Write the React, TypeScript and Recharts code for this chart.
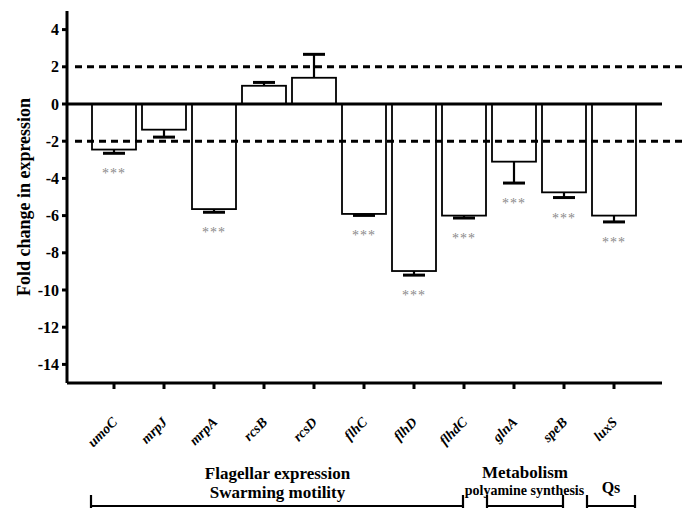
import React from 'react';
import { BarChart, Bar, XAxis, YAxis, ReferenceLine } from 'recharts';

const genes = ['umoC', 'mrpJ', 'mrpA', 'rcsB', 'rcsD', 'flhC', 'flhD', 'flhdC', 'glnA', 'speB', 'luxS'];
const foldChange = [-2.45, -1.38, -5.65, 0.98, 1.41, -5.91, -8.98, -6.0, -3.1, -4.75, -6.0];
const errors = [0.2, 0.4, 0.17, 0.18, 1.26, 0.08, 0.22, 0.13, 1.15, 0.28, 0.34];
const significance = ['***', '', '***', '', '', '***', '***', '***', '***', '***', '***'];
const yTicks = [-14, -12, -10, -8, -6, -4, -2, 0, 2, 4];
const thresholds = [2, -2];

const data = genes.map((g, i) => ({ gene: g, fc: foldChange[i], err: errors[i], sig: significance[i] }));

const SERIF = '"Liberation Serif", "Times New Roman", serif';

const BarWithError = (props: any) => {
  const { x, y, width, height, payload } = props;
  const top = Math.min(y, y + height);
  const h = Math.abs(height);
  const v = payload.fc;
  const ppu = v !== 0 ? h / Math.abs(v) : 0;
  const cx = x + width / 2;
  const neg = v < 0;
  const end = neg ? top + h : top;
  const errEnd = neg ? end + payload.err * ppu : end - payload.err * ppu;
  return (
    <g>
      <rect x={x} y={top} width={width} height={h} fill="#fff" stroke="#000" strokeWidth={1.8} />
      <line x1={cx} y1={end} x2={cx} y2={errEnd} stroke="#000" strokeWidth={2.2} />
      <line x1={cx - 11} y1={errEnd} x2={cx + 11} y2={errEnd} stroke="#000" strokeWidth={3} />
      {payload.sig ? (
        <text x={cx} y={errEnd + 25} textAnchor="middle" fontFamily={SERIF} fontSize={14} letterSpacing={1} fill="#8a8a8a">
          {payload.sig}
        </text>
      ) : null}
    </g>
  );
};

const GeneTick = (props: any) => {
  const { x, y, payload } = props;
  const ex = x + 4;
  const ey = y + 32;
  return (
    <text x={ex} y={ey} transform={`rotate(-45, ${ex}, ${ey})`} textAnchor="end" fontFamily={SERIF}
      fontWeight="bold" fontStyle="italic" fontSize={14} fill="#000">
      {payload.value}
    </text>
  );
};

const DashedExtended = (props: any) => {
  const { x1, y1, y2 } = props;
  return <line x1={x1 + 8} y1={y1} x2={683} y2={y2} stroke="#000" strokeWidth={3} strokeDasharray="7 5" />;
};

export default function App() {
  return (
    <div style={{ position: 'absolute', left: 0, top: 0, width: 683, height: 508, background: '#fff' }}>
      <BarChart width={683} height={508} data={data} margin={{ top: 11, right: 21, bottom: 0, left: 0 }}>
        <XAxis
          dataKey="gene"
          height={125}
          padding={{ left: 22, right: 23 }}
          interval={0}
          tickSize={6}
          tickMargin={2}
          axisLine={{ stroke: '#000', strokeWidth: 3 }}
          tickLine={{ stroke: '#000', strokeWidth: 3 }}
          tick={<GeneTick />}
        />
        <YAxis
          width={67}
          domain={[-15, 5]}
          ticks={yTicks}
          interval={0}
          tickSize={5}
          tickMargin={3}
          axisLine={{ stroke: '#000', strokeWidth: 3 }}
          tickLine={{ stroke: '#000', strokeWidth: 3 }}
          tick={{ fill: '#000', fontFamily: SERIF, fontWeight: 'bold', fontSize: 16 }}
        />
        {thresholds.map((t) => (
          <ReferenceLine key={t} y={t} stroke="#000" strokeWidth={3} strokeDasharray="7 5" shape={<DashedExtended />} />
        ))}
        <Bar dataKey="fc" barSize={44} shape={<BarWithError />} isAnimationActive={false} />
        <ReferenceLine y={0} stroke="#000" strokeWidth={3} />
      </BarChart>
      <svg width={683} height={508} style={{ position: 'absolute', left: 0, top: 0, pointerEvents: 'none' }}>
        <text x={29.5} y={197} transform="rotate(-90, 29.5, 197)" textAnchor="middle" fontFamily={SERIF}
          fontWeight="bold" fontSize={18} fill="#000">
          Fold change in expression
        </text>
        <g fontFamily={SERIF} fontWeight="bold" fill="#000" textAnchor="middle">
          <text x={277.5} y={478.5} fontSize={17}>Flagellar expression</text>
          <text x={277.5} y={497.5} fontSize={17}>Swarming motility</text>
          <text x={525} y={478} fontSize={17}>Metabolism</text>
          <text x={524.5} y={494.5} fontSize={14}>polyamine synthesis</text>
          <text x={611} y={493} fontSize={16}>Qs</text>
        </g>
        <g stroke="#000" strokeWidth={2.2}>
          <line x1={91} y1={506} x2={463} y2={506} />
          <line x1={91} y1={495} x2={91} y2={508} />
          <line x1={463} y1={495} x2={463} y2={508} />
          <line x1={487} y1={506} x2={563} y2={506} />
          <line x1={487} y1={495} x2={487} y2={508} />
          <line x1={563} y1={495} x2={563} y2={508} />
          <line x1={587} y1={506} x2={635} y2={506} />
          <line x1={587} y1={495} x2={587} y2={508} />
          <line x1={635} y1={495} x2={635} y2={508} />
        </g>
      </svg>
    </div>
  );
}
